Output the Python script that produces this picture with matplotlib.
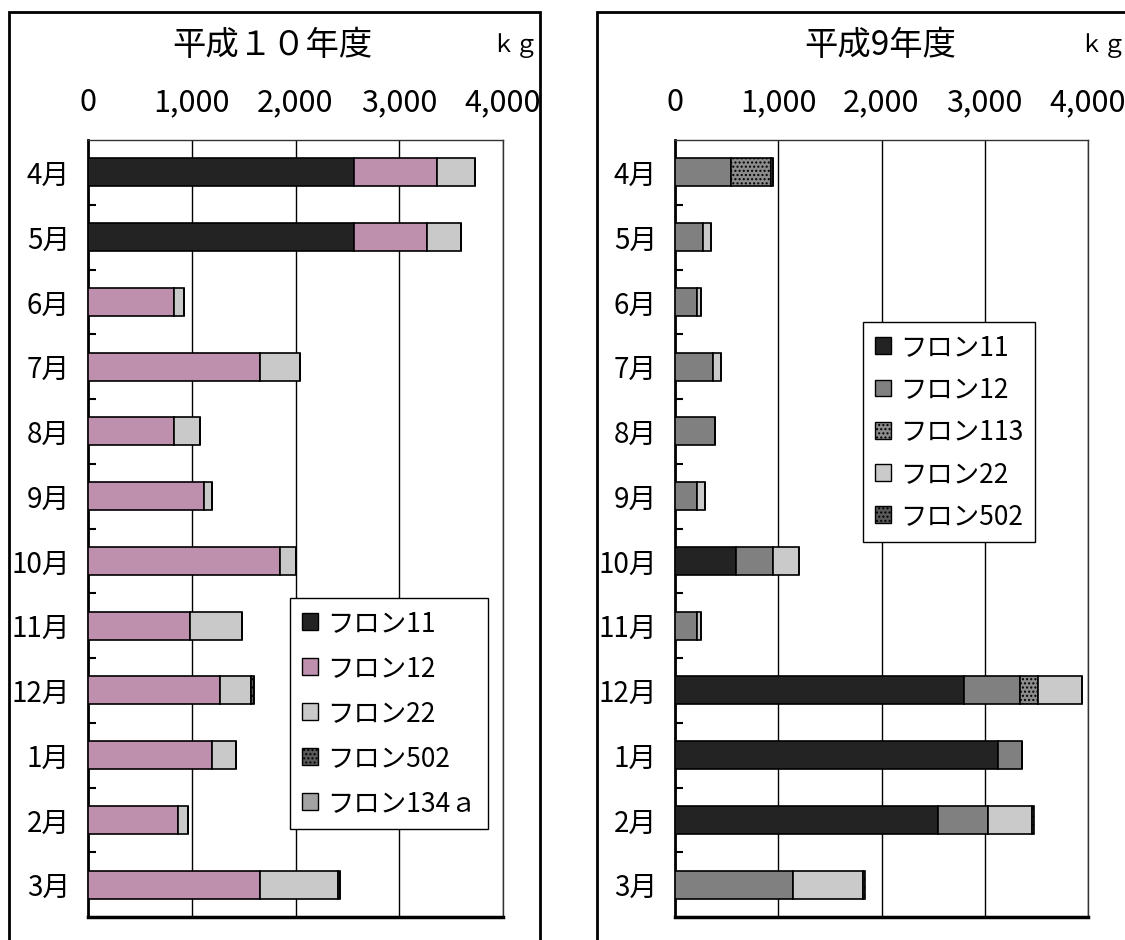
import matplotlib.pyplot as plt
import numpy as np
from matplotlib.patches import Rectangle, Patch

plt.rcParams['font.family'] = ['Noto Sans CJK JP', 'DejaVu Sans']

months = ['4月', '5月', '6月', '7月', '8月', '9月', '10月', '11月', '12月', '1月', '2月', '3月']
xticks = [0, 1000, 2000, 3000, 4000]

# 平成10年度 (kg)
h10_names = ['フロン11', 'フロン12', 'フロン22', 'フロン502', 'フロン134ａ']
h10_f11 = [2567, 2567, 0, 0, 0, 0, 0, 0, 0, 0, 0, 0]
h10_f12 = [798, 702, 827, 1654, 830, 1115, 1846, 984, 1269, 1196, 865, 1654]
h10_f22 = [366, 327, 99, 387, 250, 80, 154, 500, 305, 230, 100, 756]
h10_f502 = [0, 0, 0, 0, 0, 0, 0, 0, 22, 0, 0, 16]
h10_f134a = [0, 0, 0, 0, 0, 0, 0, 0, 0, 0, 0, 0]

# 平成9年度 (kg)
h9_names = ['フロン11', 'フロン12', 'フロン113', 'フロン22', 'フロン502']
h9_f11 = [0, 0, 0, 0, 0, 0, 586, 0, 2803, 3130, 2547, 0]
h9_f12 = [541, 272, 214, 369, 388, 214, 365, 214, 537, 233, 482, 1146]
h9_f113 = [388, 0, 0, 0, 0, 0, 0, 0, 175, 0, 0, 0]
h9_f22 = [22, 81, 38, 78, 0, 77, 253, 38, 430, 0, 431, 676]
h9_f502 = [0, 0, 0, 0, 0, 0, 0, 0, 0, 0, 16, 23]

h10_colors = ['#232323', '#bf8fae', '#c9c9c9', '#5a5a5a', '#a3a3a3']
h9_colors = ['#232323', '#808080', '#8c8c8c', '#cacaca', '#5a5a5a']
h10_hatch = ['', '', '', '....', '']
h9_hatch = ['', '', '....', '', '....']

fig = plt.figure(figsize=(11.25, 9.4), dpi=100)

# outer frames
fig.patches.append(Rectangle((9/1125, -0.05), 531/1125, 1.05 - 12/940,
                             transform=fig.transFigure, fill=False, lw=2, ec='black'))
fig.patches.append(Rectangle((597/1125, -0.05), 0.5, 1.05 - 12/940,
                             transform=fig.transFigure, fill=False, lw=2, ec='black'))


def draw(ax, series, names, colors, hatches, title, title_x, legend_pos, spacing):
    y = np.arange(len(months))
    left = np.zeros(len(months))
    for vals, c, h in zip(series, colors, hatches):
        vals = np.array(vals, dtype=float)
        ax.barh(y, vals, left=left, height=0.43, color=c, edgecolor='black',
                linewidth=1.2, hatch=h if h else None, zorder=3)
        left += vals
    ax.set_xlim(0, 4000)
    ax.set_ylim(len(months) - 0.5, -0.5)
    ax.set_xticks(xticks)
    ax.set_xticklabels([f'{v:,}' for v in xticks], fontsize=22)
    ax.xaxis.tick_top()
    ax.tick_params(axis='x', length=0, pad=16)
    ax.set_yticks(y)
    ax.set_yticklabels(months, fontsize=20)
    ax.tick_params(axis='y', length=0, pad=13)
    ax.set_yticks(np.arange(0.5, len(months) - 0.5, 1), minor=True)
    ax.tick_params(axis='y', which='minor', direction='in', length=6, width=1.5)
    ax.grid(axis='x', color='black', lw=1, zorder=0)
    for s in ['top', 'right']:
        ax.spines[s].set_linewidth(1)
        ax.spines[s].set_color('#333333')
    ax.spines['left'].set_linewidth(2)
    ax.spines['bottom'].set_linewidth(2.5)
    fig.text(title_x, 0.952, title, fontsize=24, ha='center', va='center')
    handles = [Patch(facecolor=c, edgecolor='black', hatch=h if h else None)
               for c, h in zip(colors, hatches)]
    leg = fig.legend(handles, names, loc='upper left', bbox_to_anchor=legend_pos,
                     bbox_transform=fig.transFigure, fontsize=19, frameon=True,
                     fancybox=False, edgecolor='black', framealpha=1,
                     handlelength=0.6, handleheight=0.6, handletextpad=0.35,
                     labelspacing=spacing, borderpad=0.45, borderaxespad=0)
    leg.get_frame().set_linewidth(1)


ax1 = fig.add_axes([88/1125, 1 - 917/940, 415/1125, 777/940])
draw(ax1, [h10_f11, h10_f12, h10_f22, h10_f502, h10_f134a], h10_names, h10_colors,
     h10_hatch, '平成１０年度', 272/1125, (290/1125, 1 - 598/940), 0.68)
fig.text(515/1125, 0.952, 'ｋｇ', fontsize=17, ha='center', va='center')

ax2 = fig.add_axes([675/1125, 1 - 917/940, 413/1125, 777/940])
draw(ax2, [h9_f11, h9_f12, h9_f113, h9_f22, h9_f502], h9_names, h9_colors,
     h9_hatch, '平成9年度', 880/1125, (863/1125, 1 - 322/940), 0.58)
fig.text(1103/1125, 0.952, 'ｋｇ', fontsize=17, ha='center', va='center')

fig.savefig('out.png', dpi=100)
